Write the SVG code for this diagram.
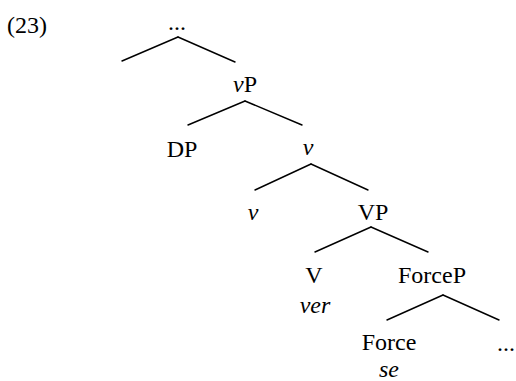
<svg xmlns="http://www.w3.org/2000/svg" width="516" height="381" viewBox="0 0 516 381">
<style>
text{font-family:"Liberation Serif","Times New Roman",serif;font-size:24px;fill:#000;text-anchor:middle}
.it{font-style:italic}
.num{text-anchor:start}
.con line{stroke:#000;stroke-width:1.4;stroke-linecap:round}
</style>
<rect width="516" height="381" fill="#fff"/>
<text class="num" x="7" y="33">(23)</text>
<g class="con" id="connectors">
<line x1="178" y1="37" x2="122" y2="61"/>
<line x1="178" y1="37" x2="235" y2="62"/>
<line x1="245" y1="101" x2="188" y2="125"/>
<line x1="245" y1="101" x2="302" y2="125"/>
<line x1="311" y1="164" x2="255" y2="190"/>
<line x1="311" y1="164" x2="368" y2="190"/>
<line x1="371" y1="227" x2="315" y2="252"/>
<line x1="371" y1="227" x2="428" y2="252"/>
<line x1="443" y1="295" x2="387" y2="320"/>
<line x1="443" y1="295" x2="499" y2="320"/>
</g>
<g id="top"><text x="177" y="30">...</text></g>
<g id="vP"><text x="245" y="92"><tspan class="it">v</tspan>P</text></g>
<g id="DP"><text x="182" y="157">DP</text></g>
<g id="vbar"><text class="it" x="308" y="155">v</text></g>
<g id="v"><text class="it" x="253" y="220">v</text></g>
<g id="VP"><text x="373" y="220">VP</text></g>
<g id="V"><text x="314" y="283">V</text><text class="it" x="315" y="313">ver</text></g>
<g id="ForceP"><text x="432" y="283">ForceP</text></g>
<g id="Force"><text x="389" y="350">Force</text><text class="it" x="389" y="377">se</text></g>
<g id="rest"><text x="506" y="351">...</text></g>
</svg>
